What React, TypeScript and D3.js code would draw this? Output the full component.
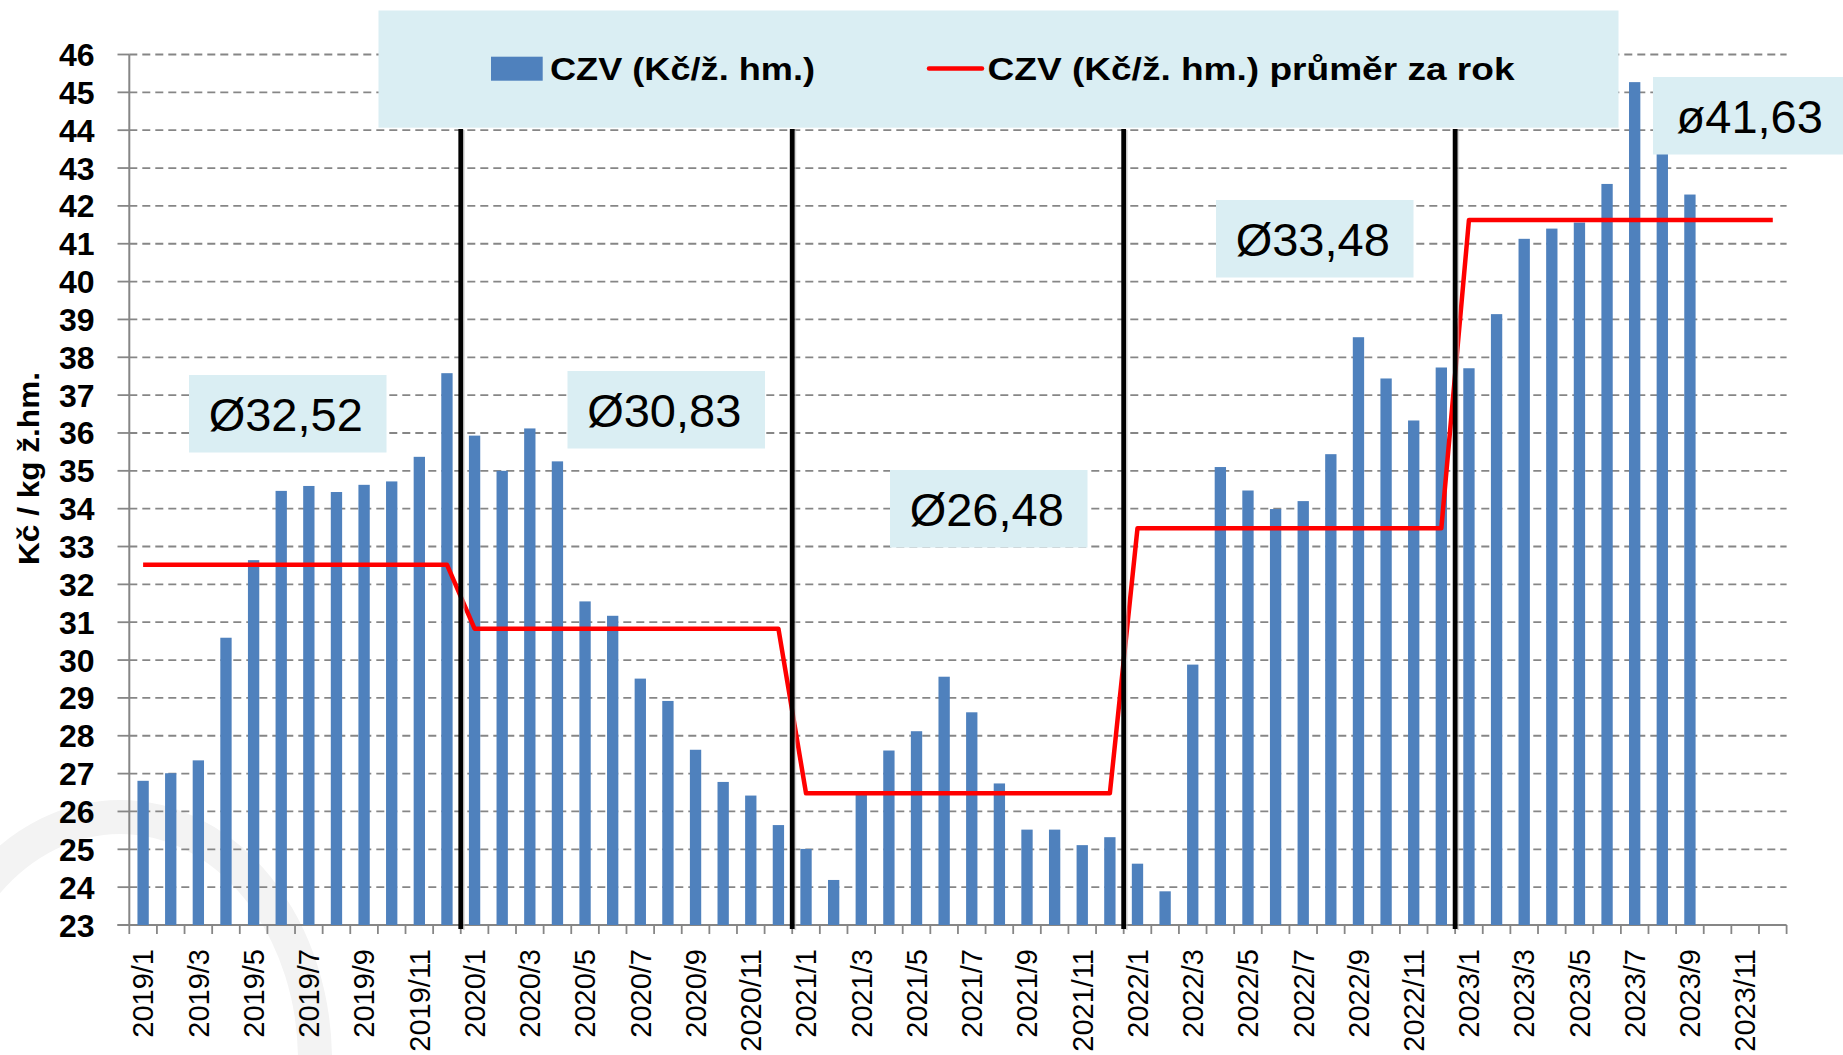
import * as d3 from "d3";

const YEARS = [2019, 2020, 2021, 2022, 2023];
const MONTHS = d3.range(1, 13);
const categories = YEARS.flatMap((y) => MONTHS.map((m) => `${y}/${m}`));

// CZV (Kč/kg ž. hm.) monthly values
const czv2019 = [26.81, 27.01, 27.35, 30.59, 32.64, 34.47, 34.6, 34.44, 34.63, 34.72, 35.37, 37.58];
const czv2020 = [35.93, 35.0, 36.12, 35.25, 31.55, 31.17, 29.51, 28.92, 27.63, 26.78, 26.42, 25.64];
const czv2021 = [25.01, 24.19, 26.45, 27.61, 28.12, 29.56, 28.62, 26.74, 25.52, 25.52, 25.11, 25.32];
const czv2022 = [24.62, 23.89, 29.88, 35.1, 34.48, 33.99, 34.2, 35.44, 38.53, 37.44, 36.33, 37.73];
const czv2023 = [37.71, 39.14, 41.13, 41.4, 41.56, 42.58, 45.27, 43.55, 42.3];
const czvValues = [...czv2019, ...czv2020, ...czv2021, ...czv2022, ...czv2023];

// yearly averages
const yearAverages = [32.52, 30.83, 26.48, 33.48, 41.63];
const averageLabels = ["Ø32,52", "Ø30,83", "Ø26,48", "Ø33,48", "ø41,63"];

const yTicks = d3.range(23, 47);
const xTickLabels = categories.filter((_, i) => i % 2 === 0);

const W = 1843;
const H = 1055;
const LEFT = 129.3;
const RIGHT = 1786.6;
const TOP = 54.5;
const BOTTOM = 925;
const FONT = "'Liberation Sans', Arial, sans-serif";
const BAR_COLOR = "#4F81BD";
const GRID_COLOR = "#868686";
const BOX_FILL = "#DAEEF3";

// annotation boxes (pixel layout)
const boxPos = [
  { x: 189, y: 375 },
  { x: 567.5, y: 371 },
  { x: 890, y: 470 },
  { x: 1216, y: 200 },
  { x: 1653, y: 77 },
];
const BOX_W = 197.5;
const BOX_H = 77.5;

export default function App() {
  const x = d3.scaleBand().domain(categories).range([LEFT, RIGHT]).padding(0);
  const y = d3.scaleLinear().domain([23, 46]).range([BOTTOM, TOP]);
  const bw = x.bandwidth();
  const barW = bw * 0.41;
  const cx = (c: string) => (x(c) ?? 0) + bw / 2;

  const avgPoints: [number, number][] = categories.map((c, i) => [
    cx(c),
    y(yearAverages[Math.floor(i / 12)]),
  ]);
  const avgPath = d3.line()(avgPoints) || undefined;

  const boundaries = categories.map((c) => x(c) ?? 0).concat([RIGHT]);
  const yearStarts = YEARS.slice(1).map((yr) => x(`${yr}/1`) ?? 0);

  return (
    <svg
      width={W}
      height={H}
      style={{ position: "absolute", left: 0, top: 0, background: "#fff" }}
    >
      {/* faint watermark */}
      <path
        d="M -75 1060 A 195 243 0 0 1 315 1060"
        fill="none"
        stroke="#f3f3f3"
        strokeWidth={34}
      />

      {/* gridlines */}
      {yTicks.slice(1).map((t) => (
        <line
          key={"g" + t}
          x1={LEFT}
          x2={RIGHT}
          y1={y(t)}
          y2={y(t)}
          stroke={GRID_COLOR}
          strokeWidth={1.8}
          strokeDasharray="8,5"
        />
      ))}
      {/* y ticks */}
      {yTicks.map((t) => (
        <line key={"yt" + t} x1={117.5} x2={LEFT} y1={y(t)} y2={y(t)} stroke={GRID_COLOR} strokeWidth={1.8} />
      ))}
      {/* x ticks */}
      {boundaries.map((bx, i) => (
        <line key={"xt" + i} x1={bx} x2={bx} y1={BOTTOM} y2={BOTTOM + 9} stroke={GRID_COLOR} strokeWidth={1.8} />
      ))}
      <line x1={LEFT} x2={LEFT} y1={TOP} y2={BOTTOM} stroke={GRID_COLOR} strokeWidth={2} />
      <line x1={117.5} x2={RIGHT} y1={BOTTOM} y2={BOTTOM} stroke={GRID_COLOR} strokeWidth={2} />

      {/* bars */}
      {czvValues.map((v, i) => (
        <rect
          key={"b" + i}
          x={cx(categories[i]) - barW / 2}
          y={y(v)}
          width={barW}
          height={y(23) - y(v)}
          fill={BAR_COLOR}
        />
      ))}

      {/* yearly average line */}
      <path d={avgPath} fill="none" stroke="#FF0000" strokeWidth={4.5} strokeLinejoin="round" />

      {/* year separators */}
      {yearStarts.map((sx, i) => (
        <g key={"s" + i}>
          <line x1={sx + 3} x2={sx + 3} y1={130} y2={930} stroke="#bdbdbd" strokeWidth={2} opacity={0.6} />
          <line x1={sx} x2={sx} y1={129} y2={929} stroke="#000" strokeWidth={4.8} />
        </g>
      ))}

      {/* y tick labels */}
      {yTicks.map((t) => (
        <text
          key={"yl" + t}
          x={94.5}
          y={y(t) + 11.5}
          textAnchor="end"
          fontFamily={FONT}
          fontWeight="bold"
          fontSize={32}
          fill="#000"
        >
          {t}
        </text>
      ))}

      {/* x tick labels */}
      {xTickLabels.map((c) => (
        <text
          key={"xl" + c}
          transform={`translate(${cx(c) + 10.3},949) rotate(-90)`}
          textAnchor="end"
          fontFamily={FONT}
          fontSize={29}
          fill="#000"
        >
          {c}
        </text>
      ))}

      {/* y axis title */}
      <text
        transform="translate(39,468.5) rotate(-90)"
        textAnchor="middle"
        fontFamily={FONT}
        fontWeight="bold"
        fontSize={30}
        textLength={193}
        lengthAdjust="spacingAndGlyphs"
        fill="#000"
      >
        Kč / kg ž.hm.
      </text>

      {/* legend */}
      <rect x={378.5} y={10.5} width={1240} height={117.2} fill={BOX_FILL} />
      <rect x={491} y={56.7} width={51.7} height={24} fill={BAR_COLOR} />
      <text
        x={550}
        y={79.5}
        fontFamily={FONT}
        fontWeight="bold"
        fontSize={32}
        textLength={265}
        lengthAdjust="spacingAndGlyphs"
        fill="#000"
      >
        CZV (Kč/ž. hm.)
      </text>
      <line x1={929} x2={982} y1={68.5} y2={68.5} stroke="#FF0000" strokeWidth={4.5} strokeLinecap="round" />
      <text
        x={987.5}
        y={79.5}
        fontFamily={FONT}
        fontWeight="bold"
        fontSize={32}
        textLength={527}
        lengthAdjust="spacingAndGlyphs"
        fill="#000"
      >
        CZV (Kč/ž. hm.) průměr za rok
      </text>

      {/* average annotation boxes */}
      {averageLabels.map((lab, i) => (
        <g key={"a" + i}>
          <rect x={boxPos[i].x} y={boxPos[i].y} width={BOX_W} height={BOX_H} fill={BOX_FILL} />
          <text
            x={boxPos[i].x + BOX_W / 2 - 2}
            y={boxPos[i].y + BOX_H / 2 + 17.5}
            textAnchor="middle"
            fontFamily={FONT}
            fontSize={47}
            fill="#000"
          >
            {lab}
          </text>
        </g>
      ))}
    </svg>
  );
}
